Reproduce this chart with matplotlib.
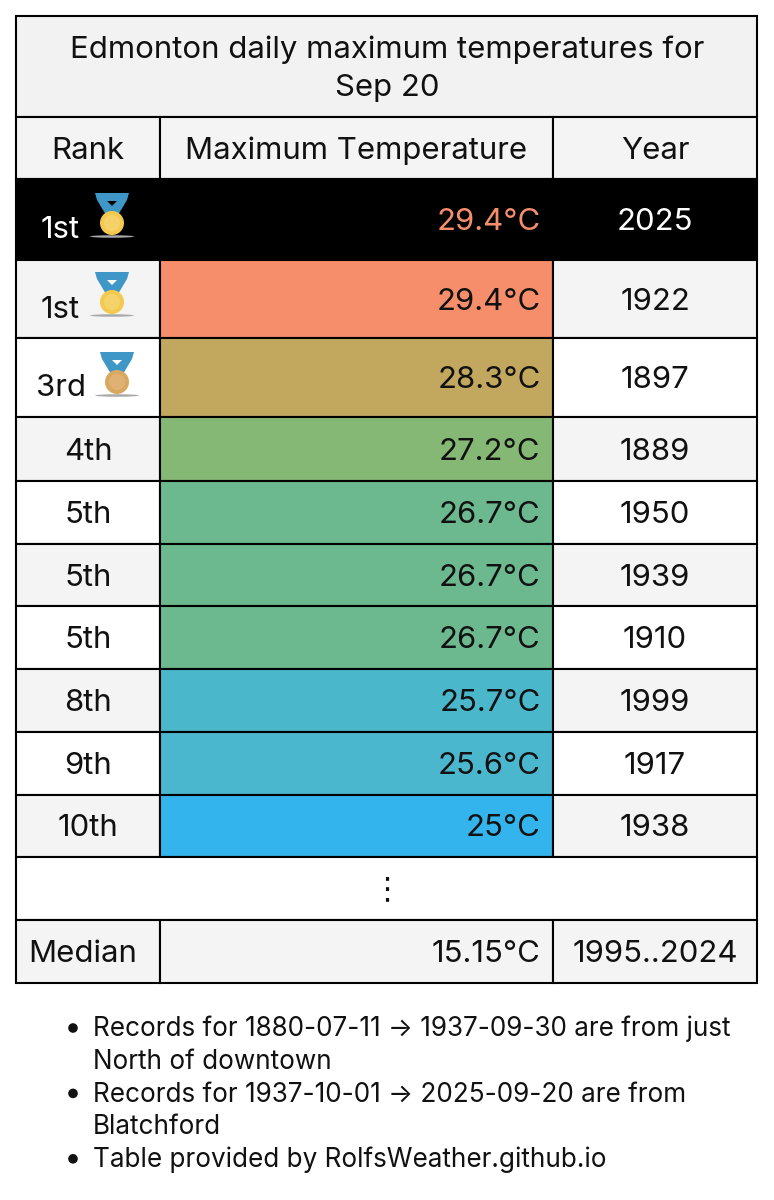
import numpy as np
import matplotlib.pyplot as plt
from matplotlib.patches import Rectangle, Circle, Polygon, Ellipse

plt.rcParams['font.family'] = ['Inter', 'DejaVu Sans']

# table contents
title = "Edmonton daily maximum temperatures for\nSep 20"
headers = ["Rank", "Maximum Temperature", "Year"]
ranks = ["1st", "1st", "3rd", "4th", "5th", "5th", "5th", "8th", "9th", "10th"]
temps = ["29.4°C", "29.4°C", "28.3°C", "27.2°C", "26.7°C", "26.7°C", "26.7°C", "25.7°C", "25.6°C", "25°C"]
years = ["2025", "1922", "1897", "1889", "1950", "1939", "1910", "1999", "1917", "1938"]
temp_colors = ["#000000", "#f78e6b", "#c2a75f", "#86b875", "#6cb98f", "#6cb98f", "#6cb98f",
               "#4bb7cb", "#4bb7cf", "#33b4ec"]
median_row = ["Median", "15.15°C", "1995..2024"]
notes = [
    ["Records for 1880-07-11 → 1937-09-30 are from just", "North of downtown"],
    ["Records for 1937-10-01 → 2025-09-20 are from", "Blatchford"],
    ["Table provided by RolfsWeather.github.io"],
]

# layout in pixels
col_edges = [16, 159.5, 553, 757]
row_edges = [117, 179, 260, 338, 417, 481, 544, 606, 669, 732, 795, 857, 920, 983]
top = 16
grey = "#f4f4f4"
fs = 22.4
dy = 2.5  # Inter sits a bit high with va=center


def draw_medal(ax, x, y, metal, inner, notch):
    # x, y is the middle of the disc
    ax.add_patch(Ellipse((x, y + 13.5), 44, 2.5, color="#a9a9a9", lw=0, zorder=3))
    ax.add_patch(Polygon([[x - 17, y - 30], [x + 17, y - 30], [x + 15, y - 23], [x + 6, y - 8],
                          [x - 6, y - 8], [x - 15, y - 23]], color="#3f97c8", lw=0, zorder=3))
    ax.add_patch(Polygon([[x - 5, y - 22], [x + 5, y - 22], [x, y - 17]], color=notch, lw=0, zorder=3))
    ax.add_patch(Circle((x, y), 12, color=metal, lw=0, zorder=4))
    ax.add_patch(Circle((x, y), 8, color=inner, lw=0, zorder=4))


fig = plt.figure(figsize=(7.74, 12), dpi=100)
ax = fig.add_axes([0, 0, 1, 1])
ax.set_xlim(0, 774)
ax.set_ylim(1200, 0)
ax.axis("off")


def cell(x0, x1, y0, y1, color, edge="black"):
    ax.add_patch(Rectangle((x0, y0), x1 - x0, y1 - y0, facecolor=color, edgecolor=edge, lw=1.5, zorder=1))


# title
cell(col_edges[0], col_edges[3], top, row_edges[0], "#f2f2f2")
ax.text(387, 68.5, title, ha="center", va="center", fontsize=fs, linespacing=1.46, color="#111111")

# header
for i, h in enumerate(headers):
    cell(col_edges[i], col_edges[i + 1], row_edges[0], row_edges[1], grey)
    ax.text((col_edges[i] + col_edges[i + 1]) / 2, 148.5 + dy, h, ha="center", va="center", fontsize=fs, color="#111111")

# ranked rows
for i in range(len(ranks)):
    y0, y1 = row_edges[i + 1], row_edges[i + 2]
    ym = (y0 + y1) / 2 + dy
    bg = grey if i % 2 == 1 else "white"
    fg = "#111111"
    if i == 0:
        bg = "black"
        fg = "white"
    for c in range(3):
        cell(col_edges[c], col_edges[c + 1], y0, y1, temp_colors[i] if c == 1 else bg)
    if i < 3:
        ax.text(60.5, ym + 8, ranks[i], ha="center", va="center", fontsize=fs, color=fg)
    else:
        ax.text(88, ym, ranks[i], ha="center", va="center", fontsize=fs, color=fg)
    ax.text(540.5, ym, temps[i], ha="right", va="center", fontsize=fs,
            color="#f78e6b" if i == 0 else fg)
    ax.text(655, ym, years[i], ha="center", va="center", fontsize=fs, color=fg)

draw_medal(ax, 112, 223, "#f3c94f", "#f6d26a", "black")
draw_medal(ax, 112, 302, "#f3c94f", "#f6d26a", "white")
draw_medal(ax, 117, 382, "#d9a860", "#dfb273", "white")

# ellipsis row
cell(col_edges[0], col_edges[3], row_edges[11], row_edges[12], "white")
ax.text(387, 890, "⋮", ha="center", va="center", fontsize=fs, color="#111111", family=["DejaVu Sans"])

# median row
for c in range(3):
    cell(col_edges[c], col_edges[c + 1], row_edges[12], row_edges[13], grey)
ax.text(83, 951.5 + dy, median_row[0], ha="center", va="center", fontsize=fs, color="#111111")
ax.text(540.5, 951.5 + dy, median_row[1], ha="right", va="center", fontsize=fs, color="#111111")
ax.text(655, 951.5 + dy, median_row[2], ha="center", va="center", fontsize=fs, color="#111111")

# notes under the table
y = 1028
for note in notes:
    ax.add_patch(Circle((73, y), 4.8, color="#111111", lw=0))
    for line in note:
        ax.text(93, y + 1, line, ha="left", va="center", fontsize=18.8, color="#111111")
        y += 32.7

fig.savefig("out.png", dpi=100)
